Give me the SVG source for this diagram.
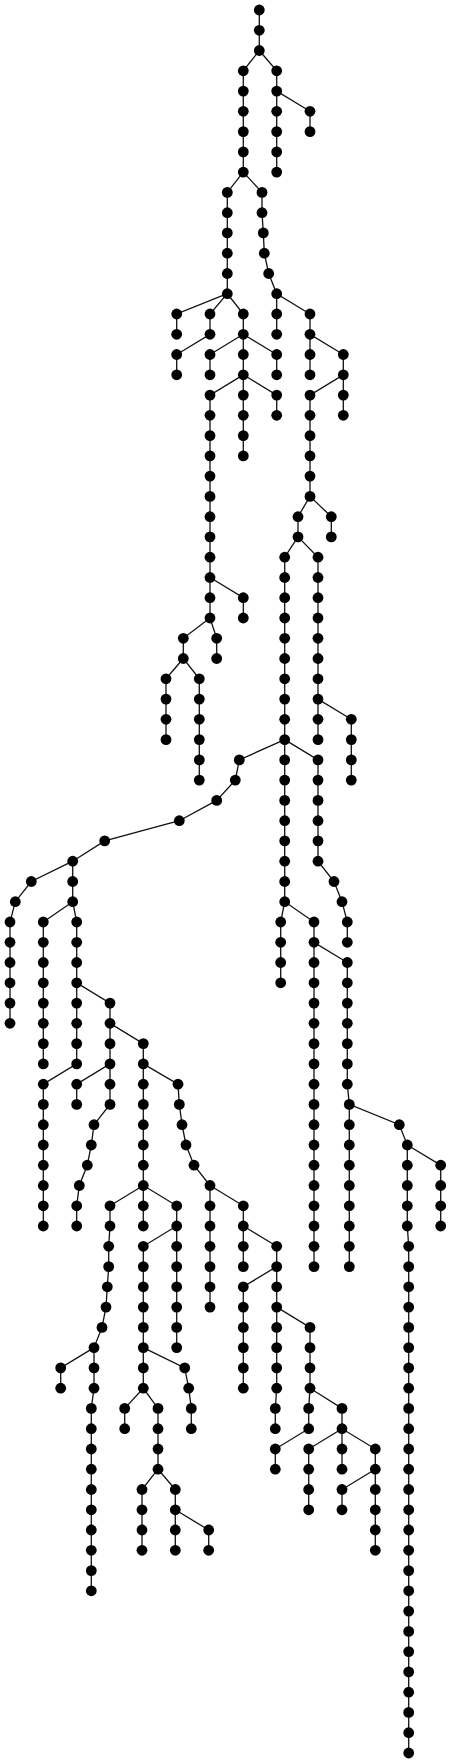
<svg xmlns="http://www.w3.org/2000/svg" width="451" height="1763" viewBox="0 0 451 1763">
<style>
.e path{fill:none;stroke:#111;stroke-width:1.3}
.n circle{fill:#000}
</style>
<rect width="451" height="1763" fill="#fff"/>
<g id="edges" class="e">
<path d="M259.3,10 L259.3,30.3 L259.3,50.5 L243.3,70.8 L243.3,91.1 L243.3,111.3 L243.3,131.6 L243.3,151.9 L243.3,172.1 L227.3,192.4 L227.3,212.7 L227.3,232.9 L227.3,253.2 L227.3,273.5 L227.3,293.7 L243.3,314 L243.3,334.3 L243.3,354.5 L243.3,374.8 L210,395.1 L210,415.3 L210,435.6 L210,455.9 L210,476.1 L210,496.4 L210,516.7 L210,536.9 L210,557.2 L210,577.5 L210,597.7 L210,618 L183.3,638.3 L183.3,658.5 L199.3,678.8 L199.3,699.1 L199.3,719.3 L199.3,739.6 L199.3,759.9 L199.3,780.1"/>
<path d="M259.3,50.5 L276.7,70.8 L276.7,91.1 L276.7,111.3 L276.7,131.6 L276.7,151.9 L276.7,172.1"/>
<path d="M276.7,91.1 L310,111.3 L310,131.6"/>
<path d="M243.3,172.1 L262,192.4 L262,212.7 L263.3,232.9 L264.3,253.2 L268.7,273.5 L276.7,293.7 L310,314 L310,334.3 L343.3,354.5 L343.3,374.8 L310,395.1 L310,415.3 L310,435.6 L310,455.9 L310,476.1 L310,496.4 L298,516.7 L298,536.9 L284.7,557.2 L284.7,577.5 L284.7,597.7 L284.7,618 L284.7,638.3 L284.7,658.5 L284.7,678.8 L284.7,699.1 L284.7,719.3 L284.7,739.6 L284.7,759.9 L284.7,780.1 L284.7,800.4 L284.7,820.7 L284.7,840.9 L284.7,861.2 L284.7,881.5 L284.7,901.7 L314,922 L314,942.3 L347.3,962.5 L347.3,982.8 L347.3,1003.1 L347.3,1023.3 L347.3,1043.6 L347.3,1063.9 L347.3,1084.2 L349.3,1104.4 L399.3,1124.7 L407.3,1145 L407.3,1165.2 L407.3,1185.5 L407.3,1205.8 L407.3,1226 L408.7,1246.3 L408.7,1753"/>
<path d="M227.3,293.7 L176.7,314 L176.7,334.3"/>
<path d="M227.3,293.7 L210,314 L210,334.3 L176.7,354.5 L176.7,374.8"/>
<path d="M243.3,334.3 L210,354.5 L210,374.8"/>
<path d="M243.3,334.3 L276.7,354.5 L276.7,374.8"/>
<path d="M243.3,374.8 L243.3,455.9"/>
<path d="M243.3,374.8 L276.7,395.1 L276.7,415.3"/>
<path d="M210,577.5 L243.3,597.7 L243.3,618"/>
<path d="M210,618 L216.7,638.3 L216.7,658.5"/>
<path d="M183.3,658.5 L166,678.8 L166,739.6"/>
<path d="M276.7,293.7 L276.7,334.3"/>
<path d="M310,334.3 L310,374.8"/>
<path d="M343.3,374.8 L343.3,415.3"/>
<path d="M310,496.4 L331.3,516.7 L331.3,536.9"/>
<path d="M298,536.9 L318,557.2 L318,739.6"/>
<path d="M318,699.1 L351.3,719.3 L351.3,780.1"/>
<path d="M284.7,739.6 L239.3,759.9 L235.3,780.1 L216.7,800.4 L179.3,820.7 L104.7,840.9 L72.7,861.2 L31.3,881.5 L15.3,901.7 L10,922 L10,1023.3"/>
<path d="M284.7,739.6 L318,759.9 L318,861.2 L334,881.5 L342,901.7 L347.3,922 L347.3,942.3"/>
<path d="M72.7,861.2 L72.7,901.7 L76.7,922 L76.7,982.8 L110,1003.1 L110,1023.3 L143.3,1043.6 L143.3,1185.5 L176.7,1205.8 L176.7,1226 L143.3,1246.3 L143.3,1388.2 L158,1408.4 L158,1469.2 L175.3,1489.5 L175.3,1550.3"/>
<path d="M72.7,901.7 L43.3,922 L43.3,1063.9"/>
<path d="M76.7,982.8 L76.7,1063.9 L43.3,1084.2 L43.3,1226"/>
<path d="M110,1023.3 L110,1063.9 L76.7,1084.2 L76.7,1104.4"/>
<path d="M110,1063.9 L110,1104.4 L94,1124.7 L91.3,1145 L87.3,1165.2 L79.3,1185.5 L76.7,1205.8 L76.7,1226"/>
<path d="M143.3,1063.9 L178,1084.2 L179.3,1104.4 L182,1124.7 L186,1145 L194,1165.2 L210,1185.5 L210,1307.1"/>
<path d="M143.3,1185.5 L110,1205.8 L110,1226 L108.7,1246.3 L108.7,1266.6 L107.3,1286.8 L106,1307.1 L102,1327.4 L94,1347.6 L94,1388.2 L91.3,1408.4 L91.3,1590.8"/>
<path d="M143.3,1185.5 L143.3,1226"/>
<path d="M94,1347.6 L60.7,1367.9 L60.7,1388.2"/>
<path d="M176.7,1226 L176.7,1347.6"/>
<path d="M143.3,1347.6 L184.7,1367.9 L188.7,1388.2 L191.3,1408.4 L191.3,1428.7"/>
<path d="M143.3,1388.2 L124.7,1408.4 L124.7,1428.7"/>
<path d="M158,1469.2 L142,1489.5 L142,1550.3"/>
<path d="M175.3,1509.8 L208.7,1530 L208.7,1550.3"/>
<path d="M210,1185.5 L243.3,1205.8 L243.3,1226 L276.7,1246.3 L276.7,1307.1 L310,1327.4 L310,1388.2 L342,1408.4 L342,1428.7 L375.3,1449 L375.3,1550.3"/>
<path d="M243.3,1226 L243.3,1266.6"/>
<path d="M276.7,1266.6 L243.3,1286.8 L243.3,1388.2"/>
<path d="M276.7,1307.1 L276.7,1388.2 L275.3,1408.4 L275.3,1428.7"/>
<path d="M310,1388.2 L308.7,1408.4 L308.7,1428.7 L275.3,1449 L275.3,1469.2"/>
<path d="M342,1428.7 L308.7,1449 L308.7,1509.8"/>
<path d="M342,1428.7 L342,1469.2"/>
<path d="M375.3,1469.2 L342,1489.5 L342,1509.8"/>
<path d="M284.7,901.7 L280.7,922 L280.7,982.8"/>
<path d="M314,942.3 L314,1266.6"/>
<path d="M349.3,1104.4 L349.3,1266.6"/>
<path d="M407.3,1145 L440.7,1165.2 L440.7,1226"/>
</g>
<g class="n">
<g id="n1"><circle cx="259.3" cy="10" r="5.4"/></g>
<g id="n2"><circle cx="259.3" cy="30.3" r="5.4"/></g>
<g id="n3"><circle cx="259.3" cy="50.5" r="5.4"/></g>
<g id="n4"><circle cx="243.3" cy="70.8" r="5.4"/></g>
<g id="n5"><circle cx="243.3" cy="91.1" r="5.4"/></g>
<g id="n6"><circle cx="243.3" cy="111.3" r="5.4"/></g>
<g id="n7"><circle cx="243.3" cy="131.6" r="5.4"/></g>
<g id="n8"><circle cx="243.3" cy="151.9" r="5.4"/></g>
<g id="n9"><circle cx="243.3" cy="172.1" r="5.4"/></g>
<g id="n10"><circle cx="227.3" cy="192.4" r="5.4"/></g>
<g id="n11"><circle cx="227.3" cy="212.7" r="5.4"/></g>
<g id="n12"><circle cx="227.3" cy="232.9" r="5.4"/></g>
<g id="n13"><circle cx="227.3" cy="253.2" r="5.4"/></g>
<g id="n14"><circle cx="227.3" cy="273.5" r="5.4"/></g>
<g id="n15"><circle cx="227.3" cy="293.7" r="5.4"/></g>
<g id="n16"><circle cx="243.3" cy="314" r="5.4"/></g>
<g id="n17"><circle cx="243.3" cy="334.3" r="5.4"/></g>
<g id="n18"><circle cx="243.3" cy="354.5" r="5.4"/></g>
<g id="n19"><circle cx="243.3" cy="374.8" r="5.4"/></g>
<g id="n20"><circle cx="210" cy="395.1" r="5.4"/></g>
<g id="n21"><circle cx="210" cy="415.3" r="5.4"/></g>
<g id="n22"><circle cx="210" cy="435.6" r="5.4"/></g>
<g id="n23"><circle cx="210" cy="455.9" r="5.4"/></g>
<g id="n24"><circle cx="210" cy="476.1" r="5.4"/></g>
<g id="n25"><circle cx="210" cy="496.4" r="5.4"/></g>
<g id="n26"><circle cx="210" cy="516.7" r="5.4"/></g>
<g id="n27"><circle cx="210" cy="536.9" r="5.4"/></g>
<g id="n28"><circle cx="210" cy="557.2" r="5.4"/></g>
<g id="n29"><circle cx="210" cy="577.5" r="5.4"/></g>
<g id="n30"><circle cx="210" cy="597.7" r="5.4"/></g>
<g id="n31"><circle cx="210" cy="618" r="5.4"/></g>
<g id="n32"><circle cx="183.3" cy="638.3" r="5.4"/></g>
<g id="n33"><circle cx="183.3" cy="658.5" r="5.4"/></g>
<g id="n34"><circle cx="199.3" cy="678.8" r="5.4"/></g>
<g id="n35"><circle cx="199.3" cy="699.1" r="5.4"/></g>
<g id="n36"><circle cx="199.3" cy="719.3" r="5.4"/></g>
<g id="n37"><circle cx="199.3" cy="739.6" r="5.4"/></g>
<g id="n38"><circle cx="199.3" cy="759.9" r="5.4"/></g>
<g id="n39"><circle cx="199.3" cy="780.1" r="5.4"/></g>
<g id="n40"><circle cx="276.7" cy="70.8" r="5.4"/></g>
<g id="n41"><circle cx="276.7" cy="91.1" r="5.4"/></g>
<g id="n42"><circle cx="276.7" cy="111.3" r="5.4"/></g>
<g id="n43"><circle cx="276.7" cy="131.6" r="5.4"/></g>
<g id="n44"><circle cx="276.7" cy="151.9" r="5.4"/></g>
<g id="n45"><circle cx="276.7" cy="172.1" r="5.4"/></g>
<g id="n46"><circle cx="310" cy="111.3" r="5.4"/></g>
<g id="n47"><circle cx="310" cy="131.6" r="5.4"/></g>
<g id="n48"><circle cx="262" cy="192.4" r="5.4"/></g>
<g id="n49"><circle cx="262" cy="212.7" r="5.4"/></g>
<g id="n50"><circle cx="263.3" cy="232.9" r="5.4"/></g>
<g id="n51"><circle cx="264.3" cy="253.2" r="5.4"/></g>
<g id="n52"><circle cx="268.7" cy="273.5" r="5.4"/></g>
<g id="n53"><circle cx="276.7" cy="293.7" r="5.4"/></g>
<g id="n54"><circle cx="310" cy="314" r="5.4"/></g>
<g id="n55"><circle cx="310" cy="334.3" r="5.4"/></g>
<g id="n56"><circle cx="343.3" cy="354.5" r="5.4"/></g>
<g id="n57"><circle cx="343.3" cy="374.8" r="5.4"/></g>
<g id="n58"><circle cx="310" cy="395.1" r="5.4"/></g>
<g id="n59"><circle cx="310" cy="415.3" r="5.4"/></g>
<g id="n60"><circle cx="310" cy="435.6" r="5.4"/></g>
<g id="n61"><circle cx="310" cy="455.9" r="5.4"/></g>
<g id="n62"><circle cx="310" cy="476.1" r="5.4"/></g>
<g id="n63"><circle cx="310" cy="496.4" r="5.4"/></g>
<g id="n64"><circle cx="298" cy="516.7" r="5.4"/></g>
<g id="n65"><circle cx="298" cy="536.9" r="5.4"/></g>
<g id="n66"><circle cx="284.7" cy="557.2" r="5.4"/></g>
<g id="n67"><circle cx="284.7" cy="577.5" r="5.4"/></g>
<g id="n68"><circle cx="284.7" cy="597.7" r="5.4"/></g>
<g id="n69"><circle cx="284.7" cy="618" r="5.4"/></g>
<g id="n70"><circle cx="284.7" cy="638.3" r="5.4"/></g>
<g id="n71"><circle cx="284.7" cy="658.5" r="5.4"/></g>
<g id="n72"><circle cx="284.7" cy="678.8" r="5.4"/></g>
<g id="n73"><circle cx="284.7" cy="699.1" r="5.4"/></g>
<g id="n74"><circle cx="284.7" cy="719.3" r="5.4"/></g>
<g id="n75"><circle cx="284.7" cy="739.6" r="5.4"/></g>
<g id="n76"><circle cx="284.7" cy="759.9" r="5.4"/></g>
<g id="n77"><circle cx="284.7" cy="780.1" r="5.4"/></g>
<g id="n78"><circle cx="284.7" cy="800.4" r="5.4"/></g>
<g id="n79"><circle cx="284.7" cy="820.7" r="5.4"/></g>
<g id="n80"><circle cx="284.7" cy="840.9" r="5.4"/></g>
<g id="n81"><circle cx="284.7" cy="861.2" r="5.4"/></g>
<g id="n82"><circle cx="284.7" cy="881.5" r="5.4"/></g>
<g id="n83"><circle cx="284.7" cy="901.7" r="5.4"/></g>
<g id="n84"><circle cx="314" cy="922" r="5.4"/></g>
<g id="n85"><circle cx="314" cy="942.3" r="5.4"/></g>
<g id="n86"><circle cx="347.3" cy="962.5" r="5.4"/></g>
<g id="n87"><circle cx="347.3" cy="982.8" r="5.4"/></g>
<g id="n88"><circle cx="347.3" cy="1003.1" r="5.4"/></g>
<g id="n89"><circle cx="347.3" cy="1023.3" r="5.4"/></g>
<g id="n90"><circle cx="347.3" cy="1043.6" r="5.4"/></g>
<g id="n91"><circle cx="347.3" cy="1063.9" r="5.4"/></g>
<g id="n92"><circle cx="347.3" cy="1084.2" r="5.4"/></g>
<g id="n93"><circle cx="349.3" cy="1104.4" r="5.4"/></g>
<g id="n94"><circle cx="399.3" cy="1124.7" r="5.4"/></g>
<g id="n95"><circle cx="407.3" cy="1145" r="5.4"/></g>
<g id="n96"><circle cx="407.3" cy="1165.2" r="5.4"/></g>
<g id="n97"><circle cx="407.3" cy="1185.5" r="5.4"/></g>
<g id="n98"><circle cx="407.3" cy="1205.8" r="5.4"/></g>
<g id="n99"><circle cx="407.3" cy="1226" r="5.4"/></g>
<g id="n100"><circle cx="408.7" cy="1246.3" r="5.4"/></g>
<g id="n101"><circle cx="408.7" cy="1266.6" r="5.4"/></g>
<g id="n102"><circle cx="408.7" cy="1286.8" r="5.4"/></g>
<g id="n103"><circle cx="408.7" cy="1307.1" r="5.4"/></g>
<g id="n104"><circle cx="408.7" cy="1327.4" r="5.4"/></g>
<g id="n105"><circle cx="408.7" cy="1347.6" r="5.4"/></g>
<g id="n106"><circle cx="408.7" cy="1367.9" r="5.4"/></g>
<g id="n107"><circle cx="408.7" cy="1388.2" r="5.4"/></g>
<g id="n108"><circle cx="408.7" cy="1408.4" r="5.4"/></g>
<g id="n109"><circle cx="408.7" cy="1428.7" r="5.4"/></g>
<g id="n110"><circle cx="408.7" cy="1449" r="5.4"/></g>
<g id="n111"><circle cx="408.7" cy="1469.2" r="5.4"/></g>
<g id="n112"><circle cx="408.7" cy="1489.5" r="5.4"/></g>
<g id="n113"><circle cx="408.7" cy="1509.8" r="5.4"/></g>
<g id="n114"><circle cx="408.7" cy="1530" r="5.4"/></g>
<g id="n115"><circle cx="408.7" cy="1550.3" r="5.4"/></g>
<g id="n116"><circle cx="408.7" cy="1570.6" r="5.4"/></g>
<g id="n117"><circle cx="408.7" cy="1590.8" r="5.4"/></g>
<g id="n118"><circle cx="408.7" cy="1611.1" r="5.4"/></g>
<g id="n119"><circle cx="408.7" cy="1631.4" r="5.4"/></g>
<g id="n120"><circle cx="408.7" cy="1651.6" r="5.4"/></g>
<g id="n121"><circle cx="408.7" cy="1671.9" r="5.4"/></g>
<g id="n122"><circle cx="408.7" cy="1692.2" r="5.4"/></g>
<g id="n123"><circle cx="408.7" cy="1712.4" r="5.4"/></g>
<g id="n124"><circle cx="408.7" cy="1732.7" r="5.4"/></g>
<g id="n125"><circle cx="408.7" cy="1753" r="5.4"/></g>
<g id="n126"><circle cx="176.7" cy="314" r="5.4"/></g>
<g id="n127"><circle cx="176.7" cy="334.3" r="5.4"/></g>
<g id="n128"><circle cx="210" cy="314" r="5.4"/></g>
<g id="n129"><circle cx="210" cy="334.3" r="5.4"/></g>
<g id="n130"><circle cx="176.7" cy="354.5" r="5.4"/></g>
<g id="n131"><circle cx="176.7" cy="374.8" r="5.4"/></g>
<g id="n132"><circle cx="210" cy="354.5" r="5.4"/></g>
<g id="n133"><circle cx="210" cy="374.8" r="5.4"/></g>
<g id="n134"><circle cx="276.7" cy="354.5" r="5.4"/></g>
<g id="n135"><circle cx="276.7" cy="374.8" r="5.4"/></g>
<g id="n136"><circle cx="243.3" cy="395.1" r="5.4"/></g>
<g id="n137"><circle cx="243.3" cy="415.3" r="5.4"/></g>
<g id="n138"><circle cx="243.3" cy="435.6" r="5.4"/></g>
<g id="n139"><circle cx="243.3" cy="455.9" r="5.4"/></g>
<g id="n140"><circle cx="276.7" cy="395.1" r="5.4"/></g>
<g id="n141"><circle cx="276.7" cy="415.3" r="5.4"/></g>
<g id="n142"><circle cx="243.3" cy="597.7" r="5.4"/></g>
<g id="n143"><circle cx="243.3" cy="618" r="5.4"/></g>
<g id="n144"><circle cx="216.7" cy="638.3" r="5.4"/></g>
<g id="n145"><circle cx="216.7" cy="658.5" r="5.4"/></g>
<g id="n146"><circle cx="166" cy="678.8" r="5.4"/></g>
<g id="n147"><circle cx="166" cy="699.1" r="5.4"/></g>
<g id="n148"><circle cx="166" cy="719.3" r="5.4"/></g>
<g id="n149"><circle cx="166" cy="739.6" r="5.4"/></g>
<g id="n150"><circle cx="276.7" cy="314" r="5.4"/></g>
<g id="n151"><circle cx="276.7" cy="334.3" r="5.4"/></g>
<g id="n152"><circle cx="310" cy="354.5" r="5.4"/></g>
<g id="n153"><circle cx="310" cy="374.8" r="5.4"/></g>
<g id="n154"><circle cx="343.3" cy="395.1" r="5.4"/></g>
<g id="n155"><circle cx="343.3" cy="415.3" r="5.4"/></g>
<g id="n156"><circle cx="331.3" cy="516.7" r="5.4"/></g>
<g id="n157"><circle cx="331.3" cy="536.9" r="5.4"/></g>
<g id="n158"><circle cx="318" cy="557.2" r="5.4"/></g>
<g id="n159"><circle cx="318" cy="577.5" r="5.4"/></g>
<g id="n160"><circle cx="318" cy="597.7" r="5.4"/></g>
<g id="n161"><circle cx="318" cy="618" r="5.4"/></g>
<g id="n162"><circle cx="318" cy="638.3" r="5.4"/></g>
<g id="n163"><circle cx="318" cy="658.5" r="5.4"/></g>
<g id="n164"><circle cx="318" cy="678.8" r="5.4"/></g>
<g id="n165"><circle cx="318" cy="699.1" r="5.4"/></g>
<g id="n166"><circle cx="318" cy="719.3" r="5.4"/></g>
<g id="n167"><circle cx="318" cy="739.6" r="5.4"/></g>
<g id="n168"><circle cx="351.3" cy="719.3" r="5.4"/></g>
<g id="n169"><circle cx="351.3" cy="739.6" r="5.4"/></g>
<g id="n170"><circle cx="351.3" cy="759.9" r="5.4"/></g>
<g id="n171"><circle cx="351.3" cy="780.1" r="5.4"/></g>
<g id="n172"><circle cx="239.3" cy="759.9" r="5.4"/></g>
<g id="n173"><circle cx="235.3" cy="780.1" r="5.4"/></g>
<g id="n174"><circle cx="216.7" cy="800.4" r="5.4"/></g>
<g id="n175"><circle cx="179.3" cy="820.7" r="5.4"/></g>
<g id="n176"><circle cx="104.7" cy="840.9" r="5.4"/></g>
<g id="n177"><circle cx="72.7" cy="861.2" r="5.4"/></g>
<g id="n178"><circle cx="31.3" cy="881.5" r="5.4"/></g>
<g id="n179"><circle cx="15.3" cy="901.7" r="5.4"/></g>
<g id="n180"><circle cx="10" cy="922" r="5.4"/></g>
<g id="n181"><circle cx="10" cy="942.3" r="5.4"/></g>
<g id="n182"><circle cx="10" cy="962.5" r="5.4"/></g>
<g id="n183"><circle cx="10" cy="982.8" r="5.4"/></g>
<g id="n184"><circle cx="10" cy="1003.1" r="5.4"/></g>
<g id="n185"><circle cx="10" cy="1023.3" r="5.4"/></g>
<g id="n186"><circle cx="318" cy="759.9" r="5.4"/></g>
<g id="n187"><circle cx="318" cy="780.1" r="5.4"/></g>
<g id="n188"><circle cx="318" cy="800.4" r="5.4"/></g>
<g id="n189"><circle cx="318" cy="820.7" r="5.4"/></g>
<g id="n190"><circle cx="318" cy="840.9" r="5.4"/></g>
<g id="n191"><circle cx="318" cy="861.2" r="5.4"/></g>
<g id="n192"><circle cx="334" cy="881.5" r="5.4"/></g>
<g id="n193"><circle cx="342" cy="901.7" r="5.4"/></g>
<g id="n194"><circle cx="347.3" cy="922" r="5.4"/></g>
<g id="n195"><circle cx="347.3" cy="942.3" r="5.4"/></g>
<g id="n196"><circle cx="72.7" cy="881.5" r="5.4"/></g>
<g id="n197"><circle cx="72.7" cy="901.7" r="5.4"/></g>
<g id="n198"><circle cx="76.7" cy="922" r="5.4"/></g>
<g id="n199"><circle cx="76.7" cy="942.3" r="5.4"/></g>
<g id="n200"><circle cx="76.7" cy="962.5" r="5.4"/></g>
<g id="n201"><circle cx="76.7" cy="982.8" r="5.4"/></g>
<g id="n202"><circle cx="110" cy="1003.1" r="5.4"/></g>
<g id="n203"><circle cx="110" cy="1023.3" r="5.4"/></g>
<g id="n204"><circle cx="143.3" cy="1043.6" r="5.4"/></g>
<g id="n205"><circle cx="143.3" cy="1063.9" r="5.4"/></g>
<g id="n206"><circle cx="143.3" cy="1084.2" r="5.4"/></g>
<g id="n207"><circle cx="143.3" cy="1104.4" r="5.4"/></g>
<g id="n208"><circle cx="143.3" cy="1124.7" r="5.4"/></g>
<g id="n209"><circle cx="143.3" cy="1145" r="5.4"/></g>
<g id="n210"><circle cx="143.3" cy="1165.2" r="5.4"/></g>
<g id="n211"><circle cx="143.3" cy="1185.5" r="5.4"/></g>
<g id="n212"><circle cx="176.7" cy="1205.8" r="5.4"/></g>
<g id="n213"><circle cx="176.7" cy="1226" r="5.4"/></g>
<g id="n214"><circle cx="143.3" cy="1246.3" r="5.4"/></g>
<g id="n215"><circle cx="143.3" cy="1266.6" r="5.4"/></g>
<g id="n216"><circle cx="143.3" cy="1286.8" r="5.4"/></g>
<g id="n217"><circle cx="143.3" cy="1307.1" r="5.4"/></g>
<g id="n218"><circle cx="143.3" cy="1327.4" r="5.4"/></g>
<g id="n219"><circle cx="143.3" cy="1347.6" r="5.4"/></g>
<g id="n220"><circle cx="143.3" cy="1367.9" r="5.4"/></g>
<g id="n221"><circle cx="143.3" cy="1388.2" r="5.4"/></g>
<g id="n222"><circle cx="158" cy="1408.4" r="5.4"/></g>
<g id="n223"><circle cx="158" cy="1428.7" r="5.4"/></g>
<g id="n224"><circle cx="158" cy="1449" r="5.4"/></g>
<g id="n225"><circle cx="158" cy="1469.2" r="5.4"/></g>
<g id="n226"><circle cx="175.3" cy="1489.5" r="5.4"/></g>
<g id="n227"><circle cx="175.3" cy="1509.8" r="5.4"/></g>
<g id="n228"><circle cx="175.3" cy="1530" r="5.4"/></g>
<g id="n229"><circle cx="175.3" cy="1550.3" r="5.4"/></g>
<g id="n230"><circle cx="43.3" cy="922" r="5.4"/></g>
<g id="n231"><circle cx="43.3" cy="942.3" r="5.4"/></g>
<g id="n232"><circle cx="43.3" cy="962.5" r="5.4"/></g>
<g id="n233"><circle cx="43.3" cy="982.8" r="5.4"/></g>
<g id="n234"><circle cx="43.3" cy="1003.1" r="5.4"/></g>
<g id="n235"><circle cx="43.3" cy="1023.3" r="5.4"/></g>
<g id="n236"><circle cx="43.3" cy="1043.6" r="5.4"/></g>
<g id="n237"><circle cx="43.3" cy="1063.9" r="5.4"/></g>
<g id="n238"><circle cx="76.7" cy="1003.1" r="5.4"/></g>
<g id="n239"><circle cx="76.7" cy="1023.3" r="5.4"/></g>
<g id="n240"><circle cx="76.7" cy="1043.6" r="5.4"/></g>
<g id="n241"><circle cx="76.7" cy="1063.9" r="5.4"/></g>
<g id="n242"><circle cx="43.3" cy="1084.2" r="5.4"/></g>
<g id="n243"><circle cx="43.3" cy="1104.4" r="5.4"/></g>
<g id="n244"><circle cx="43.3" cy="1124.7" r="5.4"/></g>
<g id="n245"><circle cx="43.3" cy="1145" r="5.4"/></g>
<g id="n246"><circle cx="43.3" cy="1165.2" r="5.4"/></g>
<g id="n247"><circle cx="43.3" cy="1185.5" r="5.4"/></g>
<g id="n248"><circle cx="43.3" cy="1205.8" r="5.4"/></g>
<g id="n249"><circle cx="43.3" cy="1226" r="5.4"/></g>
<g id="n250"><circle cx="110" cy="1043.6" r="5.4"/></g>
<g id="n251"><circle cx="110" cy="1063.9" r="5.4"/></g>
<g id="n252"><circle cx="76.7" cy="1084.2" r="5.4"/></g>
<g id="n253"><circle cx="76.7" cy="1104.4" r="5.4"/></g>
<g id="n254"><circle cx="110" cy="1084.2" r="5.4"/></g>
<g id="n255"><circle cx="110" cy="1104.4" r="5.4"/></g>
<g id="n256"><circle cx="94" cy="1124.7" r="5.4"/></g>
<g id="n257"><circle cx="91.3" cy="1145" r="5.4"/></g>
<g id="n258"><circle cx="87.3" cy="1165.2" r="5.4"/></g>
<g id="n259"><circle cx="79.3" cy="1185.5" r="5.4"/></g>
<g id="n260"><circle cx="76.7" cy="1205.8" r="5.4"/></g>
<g id="n261"><circle cx="76.7" cy="1226" r="5.4"/></g>
<g id="n262"><circle cx="178" cy="1084.2" r="5.4"/></g>
<g id="n263"><circle cx="179.3" cy="1104.4" r="5.4"/></g>
<g id="n264"><circle cx="182" cy="1124.7" r="5.4"/></g>
<g id="n265"><circle cx="186" cy="1145" r="5.4"/></g>
<g id="n266"><circle cx="194" cy="1165.2" r="5.4"/></g>
<g id="n267"><circle cx="210" cy="1185.5" r="5.4"/></g>
<g id="n268"><circle cx="210" cy="1205.8" r="5.4"/></g>
<g id="n269"><circle cx="210" cy="1226" r="5.4"/></g>
<g id="n270"><circle cx="210" cy="1246.3" r="5.4"/></g>
<g id="n271"><circle cx="210" cy="1266.6" r="5.4"/></g>
<g id="n272"><circle cx="210" cy="1286.8" r="5.4"/></g>
<g id="n273"><circle cx="210" cy="1307.1" r="5.4"/></g>
<g id="n274"><circle cx="110" cy="1205.8" r="5.4"/></g>
<g id="n275"><circle cx="110" cy="1226" r="5.4"/></g>
<g id="n276"><circle cx="108.7" cy="1246.3" r="5.4"/></g>
<g id="n277"><circle cx="108.7" cy="1266.6" r="5.4"/></g>
<g id="n278"><circle cx="107.3" cy="1286.8" r="5.4"/></g>
<g id="n279"><circle cx="106" cy="1307.1" r="5.4"/></g>
<g id="n280"><circle cx="102" cy="1327.4" r="5.4"/></g>
<g id="n281"><circle cx="94" cy="1347.6" r="5.4"/></g>
<g id="n282"><circle cx="94" cy="1367.9" r="5.4"/></g>
<g id="n283"><circle cx="94" cy="1388.2" r="5.4"/></g>
<g id="n284"><circle cx="91.3" cy="1408.4" r="5.4"/></g>
<g id="n285"><circle cx="91.3" cy="1428.7" r="5.4"/></g>
<g id="n286"><circle cx="91.3" cy="1449" r="5.4"/></g>
<g id="n287"><circle cx="91.3" cy="1469.2" r="5.4"/></g>
<g id="n288"><circle cx="91.3" cy="1489.5" r="5.4"/></g>
<g id="n289"><circle cx="91.3" cy="1509.8" r="5.4"/></g>
<g id="n290"><circle cx="91.3" cy="1530" r="5.4"/></g>
<g id="n291"><circle cx="91.3" cy="1550.3" r="5.4"/></g>
<g id="n292"><circle cx="91.3" cy="1570.6" r="5.4"/></g>
<g id="n293"><circle cx="91.3" cy="1590.8" r="5.4"/></g>
<g id="n294"><circle cx="143.3" cy="1205.8" r="5.4"/></g>
<g id="n295"><circle cx="143.3" cy="1226" r="5.4"/></g>
<g id="n296"><circle cx="60.7" cy="1367.9" r="5.4"/></g>
<g id="n297"><circle cx="60.7" cy="1388.2" r="5.4"/></g>
<g id="n298"><circle cx="176.7" cy="1246.3" r="5.4"/></g>
<g id="n299"><circle cx="176.7" cy="1266.6" r="5.4"/></g>
<g id="n300"><circle cx="176.7" cy="1286.8" r="5.4"/></g>
<g id="n301"><circle cx="176.7" cy="1307.1" r="5.4"/></g>
<g id="n302"><circle cx="176.7" cy="1327.4" r="5.4"/></g>
<g id="n303"><circle cx="176.7" cy="1347.6" r="5.4"/></g>
<g id="n304"><circle cx="184.7" cy="1367.9" r="5.4"/></g>
<g id="n305"><circle cx="188.7" cy="1388.2" r="5.4"/></g>
<g id="n306"><circle cx="191.3" cy="1408.4" r="5.4"/></g>
<g id="n307"><circle cx="191.3" cy="1428.7" r="5.4"/></g>
<g id="n308"><circle cx="124.7" cy="1408.4" r="5.4"/></g>
<g id="n309"><circle cx="124.7" cy="1428.7" r="5.4"/></g>
<g id="n310"><circle cx="142" cy="1489.5" r="5.4"/></g>
<g id="n311"><circle cx="142" cy="1509.8" r="5.4"/></g>
<g id="n312"><circle cx="142" cy="1530" r="5.4"/></g>
<g id="n313"><circle cx="142" cy="1550.3" r="5.4"/></g>
<g id="n314"><circle cx="208.7" cy="1530" r="5.4"/></g>
<g id="n315"><circle cx="208.7" cy="1550.3" r="5.4"/></g>
<g id="n316"><circle cx="243.3" cy="1205.8" r="5.4"/></g>
<g id="n317"><circle cx="243.3" cy="1226" r="5.4"/></g>
<g id="n318"><circle cx="276.7" cy="1246.3" r="5.4"/></g>
<g id="n319"><circle cx="276.7" cy="1266.6" r="5.4"/></g>
<g id="n320"><circle cx="276.7" cy="1286.8" r="5.4"/></g>
<g id="n321"><circle cx="276.7" cy="1307.1" r="5.4"/></g>
<g id="n322"><circle cx="310" cy="1327.4" r="5.4"/></g>
<g id="n323"><circle cx="310" cy="1347.6" r="5.4"/></g>
<g id="n324"><circle cx="310" cy="1367.9" r="5.4"/></g>
<g id="n325"><circle cx="310" cy="1388.2" r="5.4"/></g>
<g id="n326"><circle cx="342" cy="1408.4" r="5.4"/></g>
<g id="n327"><circle cx="342" cy="1428.7" r="5.4"/></g>
<g id="n328"><circle cx="375.3" cy="1449" r="5.4"/></g>
<g id="n329"><circle cx="375.3" cy="1469.2" r="5.4"/></g>
<g id="n330"><circle cx="375.3" cy="1489.5" r="5.4"/></g>
<g id="n331"><circle cx="375.3" cy="1509.8" r="5.4"/></g>
<g id="n332"><circle cx="375.3" cy="1530" r="5.4"/></g>
<g id="n333"><circle cx="375.3" cy="1550.3" r="5.4"/></g>
<g id="n334"><circle cx="243.3" cy="1246.3" r="5.4"/></g>
<g id="n335"><circle cx="243.3" cy="1266.6" r="5.4"/></g>
<g id="n336"><circle cx="243.3" cy="1286.8" r="5.4"/></g>
<g id="n337"><circle cx="243.3" cy="1307.1" r="5.4"/></g>
<g id="n338"><circle cx="243.3" cy="1327.4" r="5.4"/></g>
<g id="n339"><circle cx="243.3" cy="1347.6" r="5.4"/></g>
<g id="n340"><circle cx="243.3" cy="1367.9" r="5.4"/></g>
<g id="n341"><circle cx="243.3" cy="1388.2" r="5.4"/></g>
<g id="n342"><circle cx="276.7" cy="1327.4" r="5.4"/></g>
<g id="n343"><circle cx="276.7" cy="1347.6" r="5.4"/></g>
<g id="n344"><circle cx="276.7" cy="1367.9" r="5.4"/></g>
<g id="n345"><circle cx="276.7" cy="1388.2" r="5.4"/></g>
<g id="n346"><circle cx="275.3" cy="1408.4" r="5.4"/></g>
<g id="n347"><circle cx="275.3" cy="1428.7" r="5.4"/></g>
<g id="n348"><circle cx="308.7" cy="1408.4" r="5.4"/></g>
<g id="n349"><circle cx="308.7" cy="1428.7" r="5.4"/></g>
<g id="n350"><circle cx="275.3" cy="1449" r="5.4"/></g>
<g id="n351"><circle cx="275.3" cy="1469.2" r="5.4"/></g>
<g id="n352"><circle cx="308.7" cy="1449" r="5.4"/></g>
<g id="n353"><circle cx="308.7" cy="1469.2" r="5.4"/></g>
<g id="n354"><circle cx="308.7" cy="1489.5" r="5.4"/></g>
<g id="n355"><circle cx="308.7" cy="1509.8" r="5.4"/></g>
<g id="n356"><circle cx="342" cy="1449" r="5.4"/></g>
<g id="n357"><circle cx="342" cy="1469.2" r="5.4"/></g>
<g id="n358"><circle cx="342" cy="1489.5" r="5.4"/></g>
<g id="n359"><circle cx="342" cy="1509.8" r="5.4"/></g>
<g id="n360"><circle cx="280.7" cy="922" r="5.4"/></g>
<g id="n361"><circle cx="280.7" cy="942.3" r="5.4"/></g>
<g id="n362"><circle cx="280.7" cy="962.5" r="5.4"/></g>
<g id="n363"><circle cx="280.7" cy="982.8" r="5.4"/></g>
<g id="n364"><circle cx="314" cy="962.5" r="5.4"/></g>
<g id="n365"><circle cx="314" cy="982.8" r="5.4"/></g>
<g id="n366"><circle cx="314" cy="1003.1" r="5.4"/></g>
<g id="n367"><circle cx="314" cy="1023.3" r="5.4"/></g>
<g id="n368"><circle cx="314" cy="1043.6" r="5.4"/></g>
<g id="n369"><circle cx="314" cy="1063.9" r="5.4"/></g>
<g id="n370"><circle cx="314" cy="1084.2" r="5.4"/></g>
<g id="n371"><circle cx="314" cy="1104.4" r="5.4"/></g>
<g id="n372"><circle cx="314" cy="1124.7" r="5.4"/></g>
<g id="n373"><circle cx="314" cy="1145" r="5.4"/></g>
<g id="n374"><circle cx="314" cy="1165.2" r="5.4"/></g>
<g id="n375"><circle cx="314" cy="1185.5" r="5.4"/></g>
<g id="n376"><circle cx="314" cy="1205.8" r="5.4"/></g>
<g id="n377"><circle cx="314" cy="1226" r="5.4"/></g>
<g id="n378"><circle cx="314" cy="1246.3" r="5.4"/></g>
<g id="n379"><circle cx="314" cy="1266.6" r="5.4"/></g>
<g id="n380"><circle cx="349.3" cy="1124.7" r="5.4"/></g>
<g id="n381"><circle cx="349.3" cy="1145" r="5.4"/></g>
<g id="n382"><circle cx="349.3" cy="1165.2" r="5.4"/></g>
<g id="n383"><circle cx="349.3" cy="1185.5" r="5.4"/></g>
<g id="n384"><circle cx="349.3" cy="1205.8" r="5.4"/></g>
<g id="n385"><circle cx="349.3" cy="1226" r="5.4"/></g>
<g id="n386"><circle cx="349.3" cy="1246.3" r="5.4"/></g>
<g id="n387"><circle cx="349.3" cy="1266.6" r="5.4"/></g>
<g id="n388"><circle cx="440.7" cy="1165.2" r="5.4"/></g>
<g id="n389"><circle cx="440.7" cy="1185.5" r="5.4"/></g>
<g id="n390"><circle cx="440.7" cy="1205.8" r="5.4"/></g>
<g id="n391"><circle cx="440.7" cy="1226" r="5.4"/></g>
</g>
</svg>
